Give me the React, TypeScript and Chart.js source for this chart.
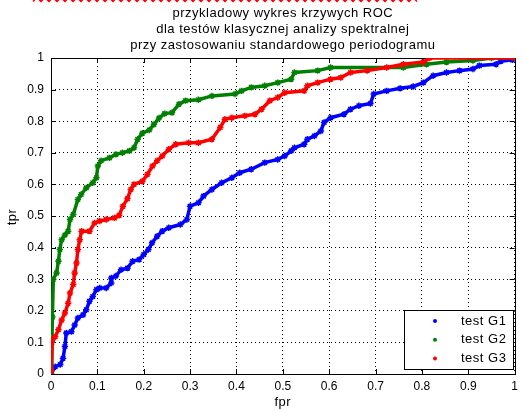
import React, { useEffect, useRef } from "react";
import { Chart, registerables } from "chart.js";

Chart.register(...registerables);

const titleLines = [
  "przykladowy wykres krzywych ROC",
  "dla testów klasycznej analizy spektralnej",
  "przy zastosowaniu standardowego periodogramu",
];
const xLabel = "fpr";
const yLabel = "tpr";
const seriesNames = ["test G1", "test G2", "test G3"];
const seriesColors = ["#0000ff", "#008000", "#ff0000"];
const tickValues = [0, 0.1, 0.2, 0.3, 0.4, 0.5, 0.6, 0.7, 0.8, 0.9, 1];

const g1Fpr = [0, 0.009, 0.02, 0.026, 0.03, 0.033, 0.044, 0.051, 0.058, 0.069, 0.076, 0.083, 0.09, 0.098, 0.105, 0.119, 0.13, 0.13, 0.14, 0.151, 0.165, 0.176, 0.19, 0.2, 0.21, 0.218, 0.229, 0.24, 0.254, 0.279, 0.293, 0.3, 0.318, 0.329, 0.347, 0.368, 0.39, 0.407, 0.432, 0.461, 0.489, 0.504, 0.518, 0.525, 0.546, 0.553, 0.568, 0.582, 0.589, 0.603, 0.632, 0.646, 0.664, 0.689, 0.696, 0.724, 0.753, 0.781, 0.803, 0.824, 0.853, 0.881, 0.91, 0.924, 0.96, 0.97, 0.995, 1];
const g1Tpr = [0, 0.023, 0.03, 0.05, 0.087, 0.13, 0.134, 0.155, 0.177, 0.187, 0.203, 0.23, 0.245, 0.267, 0.272, 0.272, 0.288, 0.304, 0.31, 0.33, 0.335, 0.357, 0.362, 0.378, 0.394, 0.415, 0.436, 0.452, 0.463, 0.473, 0.489, 0.531, 0.542, 0.563, 0.584, 0.605, 0.621, 0.637, 0.648, 0.669, 0.679, 0.69, 0.706, 0.716, 0.727, 0.743, 0.753, 0.769, 0.796, 0.811, 0.822, 0.838, 0.849, 0.856, 0.886, 0.896, 0.904, 0.91, 0.922, 0.944, 0.954, 0.96, 0.965, 0.976, 0.98, 0.99, 0.994, 1];

const g2Fpr = [0, 0.002, 0.003, 0.005, 0.012, 0.016, 0.019, 0.023, 0.03, 0.037, 0.041, 0.048, 0.058, 0.065, 0.076, 0.09, 0.098, 0.101, 0.108, 0.126, 0.14, 0.154, 0.169, 0.179, 0.187, 0.197, 0.212, 0.222, 0.233, 0.245, 0.261, 0.276, 0.29, 0.318, 0.347, 0.397, 0.411, 0.432, 0.461, 0.489, 0.518, 0.525, 0.575, 0.603, 0.76, 0.81, 0.853, 0.91, 0.95, 1];
const g2Tpr = [0, 0.1, 0.18, 0.3, 0.32, 0.357, 0.394, 0.425, 0.44, 0.452, 0.489, 0.505, 0.552, 0.568, 0.589, 0.605, 0.621, 0.658, 0.675, 0.684, 0.695, 0.7, 0.706, 0.716, 0.743, 0.762, 0.772, 0.79, 0.81, 0.824, 0.827, 0.854, 0.865, 0.868, 0.88, 0.886, 0.896, 0.907, 0.912, 0.922, 0.933, 0.954, 0.96, 0.97, 0.97, 0.98, 0.987, 0.992, 1, 1];

const g3Fpr = [0, 0, 0.003, 0.009, 0.016, 0.023, 0.03, 0.037, 0.041, 0.048, 0.051, 0.055, 0.058, 0.062, 0.066, 0.083, 0.094, 0.105, 0.119, 0.137, 0.147, 0.155, 0.165, 0.172, 0.179, 0.197, 0.208, 0.219, 0.229, 0.24, 0.254, 0.269, 0.297, 0.318, 0.347, 0.365, 0.375, 0.39, 0.418, 0.44, 0.454, 0.472, 0.489, 0.504, 0.546, 0.553, 0.575, 0.603, 0.625, 0.646, 0.682, 0.724, 0.76, 0.803, 0.817, 1];
const g3Tpr = [0, 0.013, 0.108, 0.118, 0.14, 0.171, 0.193, 0.224, 0.256, 0.283, 0.32, 0.351, 0.394, 0.425, 0.452, 0.452, 0.478, 0.484, 0.489, 0.494, 0.502, 0.531, 0.555, 0.584, 0.6, 0.61, 0.632, 0.658, 0.675, 0.69, 0.711, 0.727, 0.732, 0.732, 0.743, 0.78, 0.806, 0.811, 0.817, 0.822, 0.838, 0.865, 0.875, 0.89, 0.896, 0.912, 0.922, 0.933, 0.938, 0.954, 0.96, 0.97, 0.98, 0.987, 1, 1];

const seriesX = [g1Fpr, g2Fpr, g3Fpr];
const seriesY = [g1Tpr, g2Tpr, g3Tpr];

const FONT = "'Liberation Sans', Arial, sans-serif";

const framePlugin = {
  id: "matlabFrame",
  beforeDatasetsDraw(chart: any) {
    const { ctx, chartArea: a, scales } = chart;
    ctx.save();
    ctx.strokeStyle = "#000";
    ctx.lineWidth = 1;
    ctx.strokeRect(Math.round(a.left) + 0.5, Math.round(a.top) + 0.5, Math.round(a.right - a.left), Math.round(a.bottom - a.top));
    ctx.beginPath();
    for (const v of tickValues) {
      const px = Math.round(scales.x.getPixelForValue(v)) + 0.5;
      ctx.moveTo(px, a.bottom);
      ctx.lineTo(px, a.bottom - 5);
      ctx.moveTo(px, a.top);
      ctx.lineTo(px, a.top + 5);
      const py = Math.round(scales.y.getPixelForValue(v)) + 0.5;
      ctx.moveTo(a.left, py);
      ctx.lineTo(a.left + 5, py);
      ctx.moveTo(a.right, py);
      ctx.lineTo(a.right - 5, py);
    }
    ctx.stroke();
    ctx.restore();
  },
  afterDraw(chart: any) {
    const { ctx, chartArea: a } = chart;
    ctx.save();
    ctx.fillStyle = "#000";
    ctx.font = `13px ${FONT}`;
    (ctx as any).letterSpacing = "0.5px";
    ctx.textAlign = "center";
    ctx.textBaseline = "middle";
    const cx = (a.left + a.right) / 2;
    titleLines.forEach((t, i) => ctx.fillText(t, cx, 13 + i * 16));
    ctx.fillText(xLabel, cx, 402);
    ctx.save();
    ctx.translate(12, 217);
    ctx.rotate(-Math.PI / 2);
    ctx.fillText(yLabel, 0, 0);
    ctx.restore();

    // legend box
    const lx = 404.5, ly = 310.5, lw = 109, lh = 59;
    ctx.fillStyle = "#fff";
    ctx.fillRect(lx, ly, lw, lh);
    ctx.strokeStyle = "#000";
    ctx.lineWidth = 1;
    ctx.strokeRect(lx, ly, lw, lh);
    ctx.textAlign = "left";
    ctx.font = `13px ${FONT}`;
    seriesNames.forEach((name, i) => {
      const y = 321 + i * 18.7;
      ctx.fillStyle = seriesColors[i];
      ctx.beginPath();
      ctx.arc(435, y, 2, 0, Math.PI * 2);
      ctx.fill();
      ctx.fillStyle = "#000";
      ctx.fillText(name, 461, y);
    });
    ctx.restore();
  },
};

export default function App() {
  const ref = useRef<HTMLCanvasElement | null>(null);
  useEffect(() => {
    document.body.style.margin = "0";
    const canvas = ref.current;
    if (!canvas) return;
    const datasets = seriesNames.map((name, i) => ({
      label: name,
      data: seriesX[i].map((x, j) => ({ x, y: seriesY[i][j] })),
      borderColor: seriesColors[i],
      backgroundColor: seriesColors[i],
      borderWidth: 3.5,
      pointStyle: "star" as const,
      pointRadius: 3.2,
      pointBorderWidth: 1.5,
      pointBorderColor: seriesColors[i],
      tension: 0,
      order: 3 - i,
    }));
    const tickFont = { family: FONT, size: 12 };
    const fmt = (v: any) => String(Number(Number(v).toFixed(1)));
    const chart = new Chart(canvas, {
      type: "line",
      data: { datasets },
      plugins: [framePlugin],
      options: {
        responsive: false,
        animation: false,
        layout: { padding: { top: 58, right: 4, left: 0, bottom: 0 } },
        plugins: { legend: { display: false }, title: { display: false }, tooltip: { enabled: false } },
        scales: {
          x: {
            type: "linear",
            min: 0,
            max: 1,
            afterFit: (s: any) => { s.height = 36; },
            afterBuildTicks: (s: any) => { s.ticks = tickValues.map((v) => ({ value: v })); },
            ticks: { color: "#000", font: tickFont, padding: 5, callback: fmt, maxRotation: 0, autoSkip: false },
            grid: { color: "#000", lineWidth: 1, drawTicks: false, tickLength: 0 },
            border: { display: false, dash: [1, 3] },
          },
          y: {
            type: "linear",
            min: 0,
            max: 1,
            afterFit: (s: any) => { s.width = 51; },
            afterBuildTicks: (s: any) => { s.ticks = tickValues.map((v) => ({ value: v })); },
            ticks: { color: "#000", font: tickFont, padding: 7, callback: fmt, autoSkip: false },
            grid: { color: "#000", lineWidth: 1, drawTicks: false, tickLength: 0 },
            border: { display: false, dash: [1, 3] },
          },
        },
      },
    });
    return () => chart.destroy();
  }, []);

  const wave = Array.from({ length: 48 }, () => "l4 -4 l4 4").join(" ");

  return (
    <div style={{ position: "relative", width: 523, height: 410, background: "#fff" }}>
      <svg width={523} height={5} style={{ position: "absolute", left: 0, top: 0 }}>
        <path d={`M33 1.5 ${wave}`} stroke="#ff0000" strokeWidth={1.5} fill="none" />
      </svg>
      <canvas ref={ref} width={523} height={410} style={{ display: "block" }} />
    </div>
  );
}
